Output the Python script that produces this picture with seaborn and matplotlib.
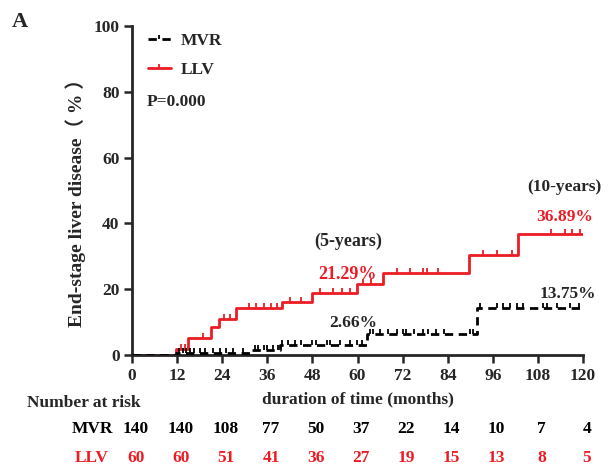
import numpy as np
import pandas as pd
import matplotlib.pyplot as plt
import seaborn as sns
from matplotlib.lines import Line2D

# Cumulative incidence (%) step points
llv_times = [0, 11.6, 15, 21, 23.2, 27.8, 40, 47.8, 59.8, 66.7, 89.6, 102.6, 120]
llv_cum = [0, 1.7, 5.2, 8.6, 10.8, 14.2, 16.2, 18.9, 21.5, 25.0, 30.4, 36.9, 36.9]
mvr_times = [0, 11.6, 31.5, 39.4, 62.5, 91.7, 120]
mvr_cum = [0, 0.7, 1.4, 3.1, 6.5, 14.4, 14.4]

# censoring marks (months)
llv_censor = [13, 14, 18.8, 24.5, 26, 31, 33, 35, 37, 38.5, 42, 45, 50, 53.5, 56, 58,
              61.5, 63.7, 70.4, 74, 77.5, 78.4, 81.5, 93.4, 97, 101, 111.6, 115.2, 117, 119.2]
mvr_censor = [12.5, 13.5, 14.5, 15.5, 16.5, 18, 19.5, 21.5, 23.4, 25, 27, 29.5,
              32.7, 33.5, 35, 36, 37.5, 38.8, 40, 41.5, 43.4, 45, 48, 49, 51.8, 52.6,
              55.3, 58, 59.8, 61.2, 63.3, 64, 66, 68, 70.5, 72, 73, 75, 77.3, 78.7, 81,
              83, 89.9, 90.7, 92.6, 97, 98.7, 100.5, 102.4, 104, 109.3, 110.4, 113,
              116.5, 119]

# number at risk
risk_months = [0, 12, 24, 36, 48, 60, 72, 84, 96, 108, 120]
mvr_risk = [140, 140, 108, 77, 50, 37, 22, 14, 10, 7, 4]
llv_risk = [60, 60, 51, 41, 36, 27, 19, 15, 13, 8, 5]

RED = '#ed1c24'
FS = 12.5
sns.set_style("ticks")
plt.rcParams['font.family'] = ['Liberation Serif', 'Noto Sans CJK SC']
plt.rcParams['font.weight'] = 'bold'

df = pd.concat([
    pd.DataFrame({'time': llv_times, 'cum': llv_cum, 'group': 'LLV'}),
    pd.DataFrame({'time': mvr_times, 'cum': mvr_cum, 'group': 'MVR'}),
])

fig = plt.figure(figsize=(6.09, 4.71), dpi=100)
ax = fig.add_axes([132 / 609, 1 - 355 / 471, 451 / 609, 329 / 471])

sns.lineplot(data=df[df.group == 'LLV'], x='time', y='cum', color=RED, lw=2,
             drawstyle='steps-post', ax=ax, zorder=2, estimator=None)
sns.lineplot(data=df[df.group == 'MVR'], x='time', y='cum', color='black', lw=2,
             drawstyle='steps-post', ax=ax, zorder=3, estimator=None)
ax.lines[1].set_dashes([3, 2])

tick_up = [(0, 0), (0, 1)]


def step_val(times, cum, t):
    i = np.searchsorted(times, t, side='right') - 1
    return cum[i]


ax.plot(llv_censor, [step_val(llv_times, llv_cum, t) for t in llv_censor],
        ls='none', marker=tick_up, ms=7, mew=1.3, color=RED, zorder=2)
ax.plot(mvr_censor, [step_val(mvr_times, mvr_cum, t) for t in mvr_censor],
        ls='none', marker=tick_up, ms=7, mew=1.3, color='black', zorder=3)

ax.set_xlim(0, 120)
ax.set_ylim(0, 100)
ax.set_xticks(risk_months)
ax.set_yticks(range(0, 101, 20))
ax.tick_params(labelsize=FS, width=1.8, length=6, direction='out', pad=3)
for s in ['left', 'bottom']:
    ax.spines[s].set_linewidth(2)
sns.despine(ax=ax)
ax.set_xlabel('duration of time (months)', fontsize=FS, fontweight='bold', labelpad=6)
ax.set_ylabel('End-stage liver disease（ % ）', fontsize=14, fontweight='bold')
ax.yaxis.set_label_coords(-0.102, 0.477)

handles = [Line2D([], [], color='black', lw=2, dashes=[3, 2], marker=tick_up, ms=6, mew=1.3),
           Line2D([], [], color=RED, lw=2, marker=tick_up, ms=6, mew=1.3)]
ax.legend(handles, ['MVR', 'LLV'], loc='upper left', bbox_to_anchor=(0.02, 1.0),
          borderaxespad=0, frameon=False, handlelength=1.3, handletextpad=0.6,
          labelspacing=0.75, prop={'weight': 'bold', 'size': FS})
ax.text(4, 77, 'P=0.000', fontsize=FS, fontweight='bold', va='center')

ax.text(57.5, 34.4, '(5-years)', fontsize=13, fontweight='bold', ha='center', va='center')
ax.text(57.3, 24.6, '21.29%', fontsize=13, fontweight='bold', ha='center', va='center', color=RED)
ax.text(58.8, 9.7, '2.66%', fontsize=FS, fontweight='bold', ha='center', va='center')
ax.text(115, 51, '(10-years)', fontsize=FS, fontweight='bold', ha='center', va='center')
ax.text(115, 42, '36.89%', fontsize=FS, fontweight='bold', ha='center', va='center', color=RED)
ax.text(116, 18.5, '13.75%', fontsize=FS, fontweight='bold', ha='center', va='center')

fig.text(12 / 609, 1 - 22 / 471, 'A', fontsize=16, fontweight='bold', va='center')
fig.text(84 / 609, 1 - 403 / 471, 'Number at risk', fontsize=FS, fontweight='bold',
         ha='center', va='center')

for label, vals, col, ypix in [('MVR', mvr_risk, 'black', 429), ('LLV', llv_risk, RED, 458)]:
    fig.text(92 / 609, 1 - ypix / 471, label, fontsize=FS, fontweight='bold',
             ha='center', va='center', color=col)
    yfrac = (355 - ypix) / 329
    for m, v in zip(risk_months, vals):
        ax.text(m + 1, yfrac, str(v), transform=ax.get_xaxis_transform(), fontsize=FS,
                fontweight='bold', ha='center', va='center', color=col, clip_on=False)

fig.savefig('out.png', dpi=100)
